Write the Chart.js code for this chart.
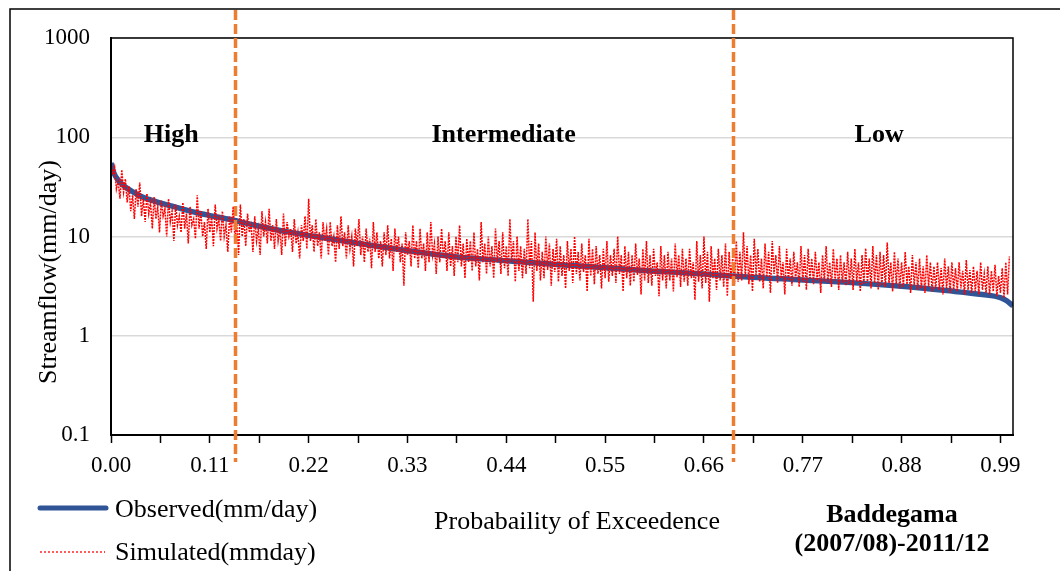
<!DOCTYPE html>
<html>
<head>
<meta charset="utf-8">
<title>Flow duration curve - Baddegama</title>
<script src="https://cdn.jsdelivr.net/npm/chart.js@4.4.0/dist/chart.umd.min.js"></script>
<style>
    html, body { margin: 0; padding: 0; background: #ffffff; overflow: hidden; }
    #chart { display: block; }
</style>
</head>
<body>
<canvas id="chart" width="1060" height="571"></canvas>
<script>
/* Data */

// Observed flow duration curve: probability of exceedence and flow (mm/day)
const observedProb = [0, 0.003, 0.008, 0.015, 0.025, 0.035, 0.05, 0.07, 0.1, 0.13, 0.16, 0.2, 0.24, 0.28, 0.33, 0.38, 0.44, 0.5, 0.55, 0.6, 0.66, 0.7, 0.77, 0.82, 0.88, 0.93, 0.97, 0.99, 0.997, 1.004];
const observedFlow = [55, 44, 37, 32, 28, 25, 22.5, 20, 17, 15, 13, 11, 9.6, 8.4, 7.2, 6.3, 5.7, 5.2, 4.85, 4.5, 4.2, 3.95, 3.65, 3.45, 3.15, 2.85, 2.6, 2.42, 2.25, 2.0];

// Simulated flow (mm/day), same rank order as observed, one value every 0.002 of probability
const simulatedFlow = [
    58, 42, 50, 30, 36, 24, 47, 28, 38, 22,
    32, 18, 26, 15, 30, 20, 35, 16, 24, 14,
    27, 17, 22, 12, 25, 15, 20, 11, 23, 16,
    19, 10, 24, 14, 18, 9, 21, 13, 16, 11,
    22, 12, 17, 8.5, 20, 13, 15, 9.5, 26, 12,
    18, 10, 14, 7.5, 19, 11, 16, 8, 21, 12,
    15, 9, 18, 10, 13, 7, 16, 11, 20, 9.5,
    14, 6.5, 21, 10, 15, 8, 17, 11, 13, 7,
    16, 9, 12, 6.5, 18, 10, 14, 8.5, 19, 9,
    13, 7.5, 15, 9, 12, 6.5, 17, 8, 14, 10,
    12, 7, 15, 8.5, 11, 6, 13, 9, 16, 7.5,
    24, 9, 13, 7, 15, 8, 11, 6, 14, 9,
    12, 6.5, 14, 8, 10, 5.5, 13, 7.5, 16, 8,
    11, 6, 13, 7.5, 10, 5, 12, 8, 15, 6.5,
    10, 5.5, 12, 7, 9.5, 4.8, 14, 7, 11, 6,
    9, 5, 11, 6.5, 13, 6, 9.5, 4.5, 12, 7,
    10, 5.5, 8.5, 3.2, 11, 6.5, 9, 5, 13, 6,
    9, 4.8, 12, 6, 8.5, 4.5, 11, 5.5, 14, 6.5,
    8.5, 4.2, 10, 5.5, 12, 6, 9, 4.5, 11, 5,
    8, 4, 10, 5.5, 13, 5, 8.5, 3.8, 9.5, 5.5,
    9, 4.5, 11, 5, 7.5, 3.6, 14, 5.5, 8.5, 4.2,
    10, 5, 8, 3.8, 12, 5.5, 9, 4.2, 11, 4.8,
    8, 4, 15, 5.5, 9, 3.5, 10, 4.5, 8, 3.8,
    7.5, 4.2, 15, 4.8, 9, 2.2, 11, 4.5, 8.5, 3.6,
    7, 3.8, 10, 4.6, 8.5, 3.2, 7.5, 4.4, 9.5, 3.5,
    8, 4, 6.5, 3, 9, 4.5, 7.5, 3.4, 10, 4.2,
    7, 3.6, 8.5, 4.4, 6.5, 2.8, 9.5, 4, 7.5, 3.3,
    8, 4.2, 6.5, 3, 7.5, 3.8, 9, 3.5, 6.5, 4,
    7.5, 3.4, 10, 4.2, 6.5, 2.8, 8, 3.8, 7, 3.2,
    6.5, 3.5, 8.5, 4.1, 6, 2.6, 7.5, 3.6, 9, 3.4,
    6.5, 3.2, 7.5, 4, 5.5, 2.5, 8, 3.6, 6.5, 3,
    7, 3.6, 6, 2.8, 8.5, 3.9, 6.5, 3.1, 7.5, 3.5,
    6, 3.2, 7.5, 3.8, 5.5, 2.3, 9, 3.5, 6.5, 3,
    10, 3.4, 7, 2.2, 8, 3.8, 6, 2.9, 7.5, 3.6,
    6.5, 3.1, 8.5, 2.5, 7, 3.7, 6, 3.3, 9, 3.5,
    7, 3.6, 11, 3.9, 8, 3.3, 6.5, 2.8, 9.5, 4,
    7.5, 3.5, 6, 3, 8.5, 3.9, 7, 2.7, 9, 4.2,
    6.5, 3.4, 8, 3.8, 5.5, 2.6, 7.5, 3.6, 6, 3.2,
    7, 3.8, 5.5, 3.1, 8, 3.5, 6.5, 2.9, 7.5, 3.7,
    6, 3.3, 7, 3.6, 5.5, 2.7, 6.5, 3.5, 8, 3.4,
    5.5, 3.1, 7.5, 3.6, 6, 2.9, 6.5, 3.4, 5.5, 3.2,
    7, 3.3, 6, 2.9, 7.5, 3.5, 5.5, 2.8, 6.5, 3.3,
    7.6, 3.4, 6, 3, 8, 3.4, 6.5, 2.9, 7, 3.2,
    6.5, 3.1, 8.7, 3.4, 5.5, 2.8, 7, 3.3, 6, 3,
    5.5, 3.1, 7, 3.3, 5, 2.7, 6.5, 3.2, 5.5, 2.9,
    6, 3, 5, 2.7, 6.5, 3.1, 5.5, 2.8, 5, 3,
    5.5, 2.9, 4.8, 2.6, 6, 3, 5, 2.7, 5.5, 2.9,
    4.8, 2.8, 5.5, 3, 4.5, 2.6, 5.8, 2.9, 4.6, 2.7,
    5, 2.8, 4.5, 2.6, 5.5, 2.9, 4.2, 2.7, 5, 2.6,
    4.5, 2.8, 5.2, 2.5, 4, 2.7, 4.8, 2.4, 5.5, 2.6,
    6.3
];
const SIM_STEP = 0.002;

// Axis ticks
const xTickValues = [0, 0.055, 0.11, 0.165, 0.22, 0.275, 0.33, 0.385, 0.44, 0.495, 0.55, 0.605, 0.66, 0.715, 0.77, 0.825, 0.88, 0.935, 0.99];
const yTickValues = [0.1, 1, 10, 100, 1000];

// Flow regime limits (probability) and their labels
const regimeLimits = [0.1384, 0.6923];
const regimeLabels = ["High", "Intermediate", "Low"];
const regimeLabelProb = [0.067, 0.437, 0.855];

const seriesNames = ["Observed(mm/day)", "Simulated(mmday)"];
const xTitle = "Probabaility of Exceedence";
const yTitle = "Streamflow(mm/day)";
const stationLines = ["Baddegama", "(2007/08)-2011/12"];

/* Styles */

const FONT = "'Liberation Serif', 'Times New Roman', serif";
const BLUE = "#2f5597";
const RED = "#ff0000";
const ORANGE = "#ed7d31";

function buildPoints(xs, ys){
    /* Pairs up x and y arrays into {x, y} points for Chart.js */
    return ys.map((y, i) => ({x: xs[i], y: y}));
}

const simulatedPoints = simulatedFlow.map((y, i) => ({x: i * SIM_STEP, y: y}));

const extrasPlugin = {
    id: "extras",
    afterDatasetsDraw(chart){
        const {ctx, chartArea: area, scales: {x}} = chart;

        ctx.save();

        // plot area frame
        ctx.strokeStyle = "#000000";
        ctx.lineWidth = 1.5;
        ctx.strokeRect(area.left, area.top, area.right - area.left, area.bottom - area.top);
        ctx.lineWidth = 2;
        ctx.beginPath();
        ctx.moveTo(area.left, area.top);
        ctx.lineTo(area.left, area.bottom);
        ctx.stroke();

        // outer frame of the chart object
        ctx.lineWidth = 1.5;
        ctx.strokeRect(10, 9, 1080, 600);

        // regime limits
        ctx.strokeStyle = ORANGE;
        ctx.lineWidth = 3.5;
        ctx.setLineDash([10, 4]);
        regimeLimits.forEach(p => {
            const px = Math.round(x.getPixelForValue(p)) + 0.5;
            ctx.beginPath();
            ctx.moveTo(px, 10);
            ctx.lineTo(px, 462);
            ctx.stroke();
        });
        ctx.setLineDash([]);

        // regime labels
        ctx.fillStyle = "#000000";
        ctx.font = "bold 26px " + FONT;
        ctx.textAlign = "center";
        ctx.textBaseline = "alphabetic";
        regimeLabels.forEach((label, i) => {
            ctx.fillText(label, x.getPixelForValue(regimeLabelProb[i]), 142);
        });

        // station name
        ctx.fillText(stationLines[0], 892, 522);
        ctx.fillText(stationLines[1], 892, 551);

        // axis titles
        ctx.font = "26px " + FONT;
        ctx.fillText(xTitle, 577, 529);

        ctx.save();
        ctx.translate(56, 272);
        ctx.rotate(-Math.PI / 2);
        ctx.fillText(yTitle, 0, 0);
        ctx.restore();

        // legend
        ctx.lineCap = "round";
        ctx.strokeStyle = BLUE;
        ctx.lineWidth = 5;
        ctx.beginPath();
        ctx.moveTo(40, 508);
        ctx.lineTo(106, 508);
        ctx.stroke();

        ctx.lineCap = "butt";
        ctx.strokeStyle = RED;
        ctx.lineWidth = 1.3;
        ctx.setLineDash([2, 2]);
        ctx.beginPath();
        ctx.moveTo(40, 552);
        ctx.lineTo(105, 552);
        ctx.stroke();
        ctx.setLineDash([]);

        ctx.textAlign = "left";
        ctx.fillText(seriesNames[0], 115, 517);
        ctx.fillText(seriesNames[1], 115, 560);

        ctx.restore();
    }
};

const ctx = document.getElementById("chart").getContext("2d");

new Chart(ctx, {
    type: "line",
    data: {
        datasets: [{
            label: seriesNames[1],
            data: simulatedPoints,
            borderColor: RED,
            backgroundColor: RED,
            borderWidth: 1.5,
            borderDash: [2, 1],
            pointRadius: 0,
            tension: 0,
            order: 0
        },

        {
            label: seriesNames[0],
            data: buildPoints(observedProb, observedFlow),
            borderColor: BLUE,
            backgroundColor: BLUE,
            borderWidth: 5.5,
            pointRadius: 0,
            cubicInterpolationMode: "monotone",
            order: 1
        }]
    },

    options: {
        responsive: false,
        animation: false,
        devicePixelRatio: 1,
        layout: {
            padding: {left: 0, top: 38, right: 47, bottom: 0}
        },
        plugins: {
            legend: {display: false},
            tooltip: {enabled: false}
        },

        scales: {
            x: {
                type: "linear",
                min: 0,
                max: 1.004,
                afterBuildTicks: scale => { scale.ticks = xTickValues.map(v => ({value: v})); },
                afterFit: scale => { scale.height = 136; },
                ticks: {
                    autoSkip: false,
                    maxRotation: 0,
                    padding: 9,
                    color: "#000000",
                    font: {family: FONT, size: 23},
                    callback: (value, index) => index % 2 === 0 ? value.toFixed(2) : ""
                },
                grid: {
                    drawOnChartArea: false,
                    drawTicks: true,
                    tickLength: 8,
                    tickColor: "#000000",
                    tickWidth: 1.5
                },
                border: {display: true, color: "#000000", width: 2}
            },

            y: {
                type: "logarithmic",
                min: 0.1,
                max: 1000,
                afterBuildTicks: scale => { scale.ticks = yTickValues.map(v => ({value: v})); },
                afterFit: scale => { scale.width = 111; },
                ticks: {
                    padding: 21,
                    color: "#000000",
                    font: {family: FONT, size: 23},
                    callback: value => String(value)
                },
                grid: {
                    color: "#d9d9d9",
                    lineWidth: 1.5,
                    drawTicks: false
                },
                border: {display: true, color: "#000000", width: 2}
            }
        }
    },
    plugins: [extrasPlugin]
});
</script>
</body>
</html>
